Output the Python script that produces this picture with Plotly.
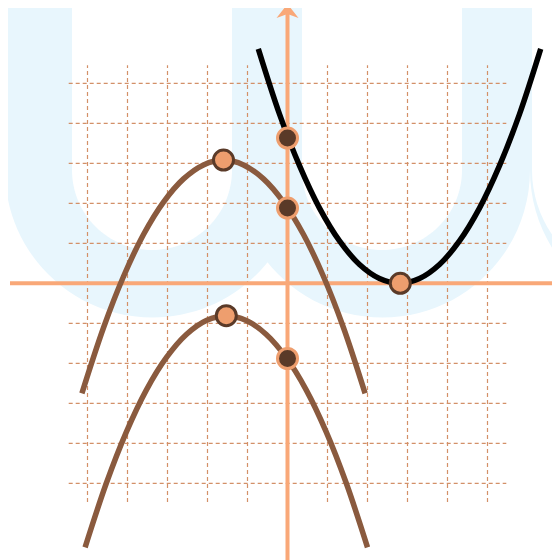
import plotly.graph_objects as go

# curve points (grid unit = 1)
black_x = [-0.73, -0.2, 0.3, 0.8, 1.3, 1.8, 2.3, 2.8, 3.3, 3.8, 4.3, 4.8, 5.3, 5.8, 6.33]
black_y = [5.86, 4.23, 2.94, 1.88, 1.06, 0.47, 0.12, 0, 0.12, 0.47, 1.06, 1.88, 2.94, 4.23, 5.86]

upper_x = [-5.14, -4.6, -4.1, -3.6, -3.1, -2.6, -2.1, -1.6, -1.1, -0.6, -0.1, 0.4, 0.9, 1.4, 1.94]
upper_y = [-2.75, -1.11, 0.17, 1.22, 2.03, 2.61, 2.96, 3.08, 2.96, 2.61, 2.03, 1.22, 0.17, -1.11, -2.75]

lower_x = [-5.06, -4.53, -4.03, -3.53, -3.03, -2.53, -2.03, -1.53, -1.03, -0.53, -0.03, 0.47, 0.97, 1.47, 2.0]
lower_y = [-6.6, -5.0, -3.72, -2.67, -1.86, -1.28, -0.93, -0.81, -0.93, -1.28, -1.86, -2.67, -3.72, -5.0, -6.6]

# highlighted points: vertices and y-intercepts
vertex_x = [2.82, -1.6, -1.53]
vertex_y = [0, 3.08, -0.81]
intercept_x = [0, 0, 0]
intercept_y = [3.63, 1.88, -1.88]

grid_ticks = [-5, -4, -3, -2, -1, 1, 2, 3, 4, 5]

ORANGE = "#f9a878"
BROWN = "#8a5a3e"
DARK = "#5a3a28"
MARKER_ORANGE = "#ee9e6e"
GRID = "#d39068"
WATER = "#e8f6fd"

# pixel <-> data: origin at (287.5, 283.3), 40 px per unit
OX, OY, U = 287.5, 283.3, 40.0
PAGE = 8  # the page body margin shifts the plot by this many pixels


def dx(p):
    return (p - OX) / U


def dy(p):
    return (OY - p) / U


def u_path(x0, x1, ytop, cy):
    """U shape (pixel coords) with a round bottom, as an svg path in data coords."""
    r = (x1 - x0) / 2
    cx = x0 + r
    k = 0.5523 * r
    pts = [
        f"M{dx(x0)},{dy(ytop)}",
        f"L{dx(x0)},{dy(cy)}",
        f"C{dx(x0)},{dy(cy + k)} {dx(cx - k)},{dy(cy + r)} {dx(cx)},{dy(cy + r)}",
        f"C{dx(cx + k)},{dy(cy + r)} {dx(x1)},{dy(cy + k)} {dx(x1)},{dy(cy)}",
        f"L{dx(x1)},{dy(ytop)} Z",
    ]
    return " ".join(pts)


shapes = []
# faint watermark letters
for x0, x1, fill in [(5, 300, WATER), (235, 530, WATER), (72, 232, "white"), (302, 462, "white")]:
    shapes.append(dict(type="path", path=u_path(x0, x1, -5, 170), fillcolor=fill,
                       line_width=0, layer="below"))
shapes.append(dict(type="path", path=u_path(530, 826, -5, 170), fillcolor=WATER,
                   line_width=0, layer="below"))
shapes.append(dict(type="path", path=u_path(532, 760, 5, 170), fillcolor="white",
                   line_width=0, layer="below"))

# dashed grid
for t in grid_ticks:
    shapes.append(dict(type="line", x0=t, x1=t, y0=-5.47, y1=5.45, layer="below",
                       line=dict(color=GRID, width=1.2, dash="4px,3px")))
    shapes.append(dict(type="line", x0=-5.47, x1=5.47, y0=t, y1=t, layer="below",
                       line=dict(color=GRID, width=1.2, dash="4px,3px")))

# axes with arrow heads
shapes.append(dict(type="line", x0=dx(10), x1=dx(556), y0=0, y1=0, layer="below",
                   line=dict(color=ORANGE, width=4)))
shapes.append(dict(type="line", x0=0, x1=0, y0=dy(570), y1=dy(10), layer="below",
                   line=dict(color=ORANGE, width=4)))
shapes.append(dict(type="path", layer="below", fillcolor=ORANGE, line_width=0,
                   path=f"M0,{dy(4)} L{dx(OX - 11)},{dy(18)} L0,{dy(14)} L{dx(OX + 11)},{dy(18)} Z"))
shapes.append(dict(type="path", layer="below", fillcolor=ORANGE, line_width=0,
                   path=f"M{dx(566)},0 L{dx(552)},{dy(OY - 11)} L{dx(556)},0 L{dx(552)},{dy(OY + 11)} Z"))

fig = go.Figure()
fig.add_trace(go.Scatter(x=upper_x, y=upper_y, mode="lines", line=dict(color=BROWN, width=5.5, shape="spline")))
fig.add_trace(go.Scatter(x=lower_x, y=lower_y, mode="lines", line=dict(color=BROWN, width=5.5, shape="spline")))
fig.add_trace(go.Scatter(x=black_x, y=black_y, mode="lines", line=dict(color="black", width=5.5, shape="spline")))
fig.add_trace(go.Scatter(x=vertex_x, y=vertex_y, mode="markers",
                         marker=dict(size=20, color=MARKER_ORANGE, line=dict(color=DARK, width=3))))
fig.add_trace(go.Scatter(x=intercept_x, y=intercept_y, mode="markers",
                         marker=dict(size=20, color=DARK, line=dict(color=MARKER_ORANGE, width=3))))

fig.update_layout(
    width=560, height=560, margin=dict(l=0, r=0, t=0, b=0),
    paper_bgcolor="white", plot_bgcolor="white", showlegend=False,
    xaxis=dict(range=[dx(PAGE), dx(560 + PAGE)], visible=False, fixedrange=True),
    yaxis=dict(range=[dy(560 + PAGE), dy(PAGE)], visible=False, fixedrange=True),
    shapes=shapes,
)
fig.write_html("out.html")
